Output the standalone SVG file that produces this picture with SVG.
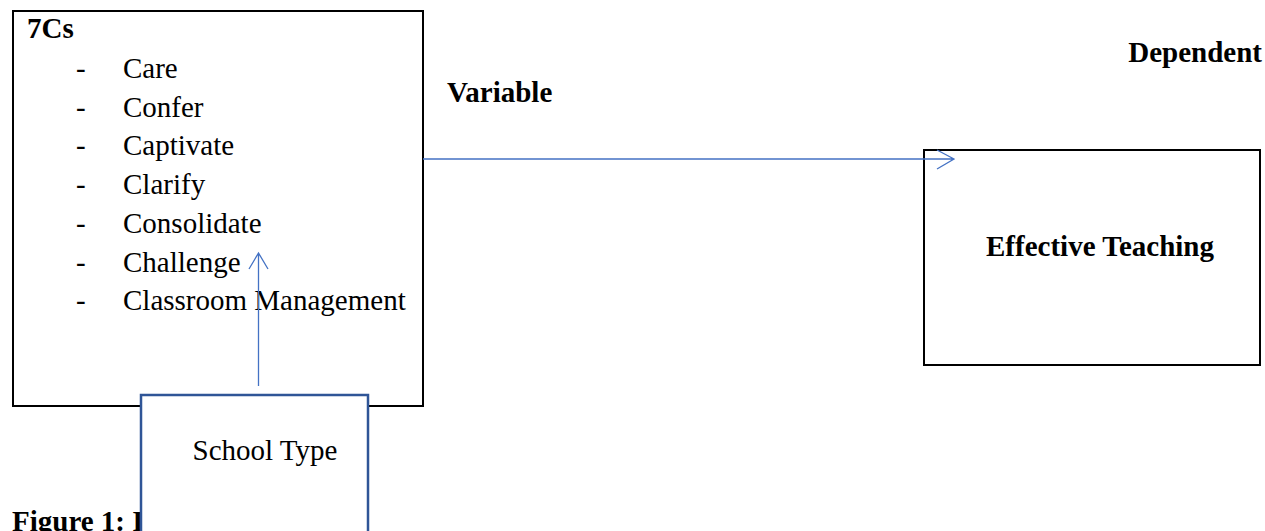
<svg xmlns="http://www.w3.org/2000/svg" width="1265" height="531" viewBox="0 0 1265 531">
<style>
text{font-family:"Liberation Serif","Times New Roman",serif;font-size:29px;fill:#000}
.b{font-weight:bold}
.box{fill:#fff;stroke:#000;stroke-width:2}
.conn{fill:none;stroke:#4472C4;stroke-width:1.3}
</style>
<rect width="1265" height="531" fill="#fff"/>
<text class="b" x="12" y="531">Figure 1: I</text>
<g id="n-7cs">
<rect class="box" x="13" y="11" width="410" height="395"/>
<text class="b" x="27" y="38">7Cs</text>
<g>
<text x="76" y="78">-</text><text x="123" y="78">Care</text>
<text x="76" y="117">-</text><text x="123" y="117">Confer</text>
<text x="76" y="155">-</text><text x="123" y="155">Captivate</text>
<text x="76" y="194">-</text><text x="123" y="194">Clarify</text>
<text x="76" y="233">-</text><text x="123" y="233">Consolidate</text>
<text x="76" y="272">-</text><text x="123" y="272">Challenge</text>
<text x="76" y="310">-</text><text x="123" y="310">Classroom Management</text>
</g>
</g>
<g id="n-variable"><text class="b" x="447" y="102">Variable</text></g>
<g id="n-dependent"><text class="b" x="1262" y="62" text-anchor="end">Dependent</text></g>
<g id="n-effective">
<rect class="box" x="924" y="150" width="336" height="215"/>
<text class="b" x="1100" y="256" text-anchor="middle">Effective Teaching</text>
</g>
<g id="connectors">
<path class="conn" d="M423 159H954M937 150L954 159L937 169"/>
<path class="conn" d="M258.5 386V253M249 269L258.5 253L268 269"/>
</g>
<g id="n-school">
<rect x="141" y="395" width="227" height="150" fill="#fff" stroke="#2F5597" stroke-width="2.5"/>
<text x="265" y="460" text-anchor="middle">School Type</text>
</g>
</svg>
